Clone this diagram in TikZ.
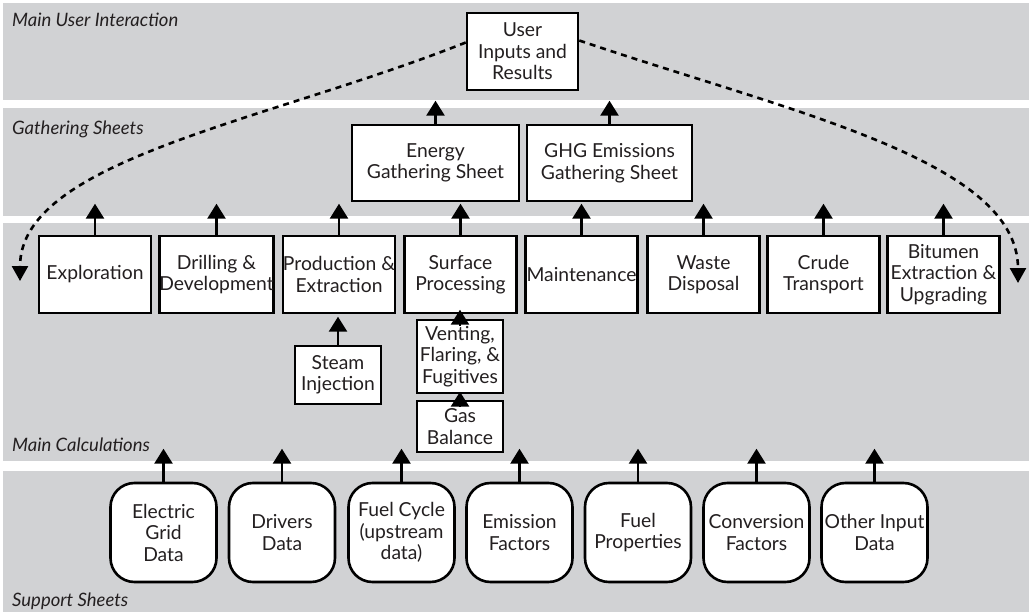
\documentclass[tikz,border=0pt]{standalone}
\usepackage{fontspec}
\setmainfont{Lato}
\usetikzlibrary{arrows.meta,calc}
\definecolor{band}{RGB}{209,210,212}
\definecolor{ink}{RGB}{35,31,32}
\begin{document}
\begin{tikzpicture}[x=1pt,y=-1pt,
  box/.style={draw=black, line width=2.6pt, fill=white, align=center, inner sep=0pt, text=ink,
    font=\fontsize{19.3}{21.5}\selectfont},
  rbox/.style={box, rounded corners=24pt, minimum width=106pt, minimum height=99pt},
  mbox/.style={box, minimum width=112pt, minimum height=77pt},
  sbox/.style={box, minimum width=86pt},
  up/.style={line width=2.6pt, -{Triangle[width=18pt,length=15pt]}},
  dsh/.style={line width=2.6pt, dash pattern=on 6pt off 5pt, -{Triangle[width=16pt,length=15pt]}},
  lab/.style={font=\fontsize{18.5}{20}\selectfont\itshape, text=ink, anchor=west, inner sep=0pt}]
\useasboundingbox (0,0) rectangle (1029,615);
% bands
\fill[band] (3,3) rectangle (1029,100);
\fill[band] (3,108) rectangle (1029,216);
\fill[band] (3,223) rectangle (1029,461);
\fill[band] (3,471) rectangle (1029,612);
\node[lab] (l1) at (12,20) {Main User Interaction};
\node[lab] (l2) at (12,129) {Gathering Sheets};
\node[lab] (l3) at (12,445) {Main Calculations};
\node[lab] (l4) at (12,601) {Support Sheets};
% top
\node[box, minimum width=111pt, minimum height=77pt] (user) at (522.5,51.5) {User\\Inputs and\\Results};
\node[box, minimum width=167pt, minimum height=76pt] (energy) at (435.5,163) {Energy\\Gathering Sheet};
\node[box, minimum width=165pt, minimum height=76pt] (ghg) at (609.5,163) {GHG Emissions\\Gathering Sheet};
% main calculations
\node[mbox] (explo) at (95,274.5) {Exploration};
\node[mbox] (drill) at (216.5,274.5) {Drilling \&\\Development};
\node[mbox] (prod) at (339,274.5) {Production \&\\Extraction};
\node[mbox] (surf) at (460.5,274.5) {Surface\\Processing};
\node[mbox] (maint) at (581.5,274.5) {Maintenance};
\node[mbox] (waste) at (703.5,274.5) {Waste\\Disposal};
\node[mbox] (crude) at (823.5,274.5) {Crude\\Transport};
\node[mbox] (bitu) at (943.5,274.5) {Bitumen\\Extraction \&\\Upgrading};
\node[sbox, minimum height=58pt] (steam) at (338,375) {Steam\\Injection};
\node[sbox, minimum height=73pt] (vent) at (460,356.5) {Venting,\\Flaring, \&\\Fugitives};
\node[sbox, minimum height=51pt] (gas) at (460,426.5) {Gas\\Balance};
% support
\node[rbox] (elec) at (163.5,532.5) {Electric\\Grid\\Data};
\node[rbox] (drv) at (282,532.5) {Drivers\\Data};
\node[rbox] (fcyc) at (401.5,532.5) {Fuel Cycle\\(upstream\\data)};
\node[rbox] (emis) at (519.5,532.5) {Emission\\Factors};
\node[rbox] (fprop) at (638,532.5) {Fuel\\Properties};
\node[rbox] (conv) at (756.5,532.5) {Conversion\\Factors};
\node[rbox] (other) at (874.5,532.5) {Other Input\\Data};
% stub arrows
\foreach \n/\d in {energy/23, ghg/23, explo/31, drill/31, prod/31, surf/31, maint/31, waste/31, crude/31, bitu/31, steam/28,
  elec/33, drv/33, fcyc/33, emis/33, fprop/33, conv/33, other/33}{
  \coordinate (\n-t) at ($(\n.north)+(0,-\d)$);
  \draw[up] (\n.north) -- (\n-t);
}
\coordinate (vent-t) at ($(vent.north)+(0,-9)$);
\draw[up] ([yshift=-7pt]vent.north) -- (vent-t);
\coordinate (gas-t) at ($(gas.north)+(0,-8)$);
\draw[up] ([yshift=-7pt]gas.north) -- (gas-t);
% dashed curves
\coordinate (lt) at (20,281);
\coordinate (rt) at (1018,283);
\draw[dsh] ([yshift=9pt]user.west) .. controls (265,122) and (20,160) .. (lt);
\draw[dsh] ([yshift=11pt]user.east) .. controls (790,112) and (1018,160) .. (rt);
\end{tikzpicture}
\end{document}
